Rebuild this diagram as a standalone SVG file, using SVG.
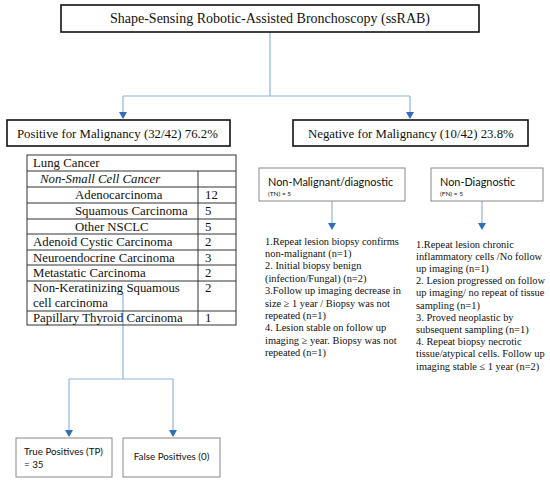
<svg xmlns="http://www.w3.org/2000/svg" width="550" height="481" viewBox="0 0 550 481">
<style>
.bx{fill:#fff;stroke:#111;stroke-width:1.6}
.gb{fill:#fff;stroke:#888;stroke-width:1}
.tb{fill:none;stroke:#333;stroke-width:1}
.s{font-family:"Liberation Serif","Times New Roman",serif;fill:#111}
.h{font-size:14px}
.m{font-size:12.8px}
.l{font-size:10.4px}
.c{font-family:Lato,"Liberation Sans",sans-serif;fill:#111}
.ln{fill:none;stroke:#8eb4e3;stroke-width:1.2}
</style>
<rect width="550" height="481" fill="#fff"/>
<g id="connectors">
<path class="ln" d="M270,32 V96 M123,96 H410"/>
<path class="ln" d="M123,96 V113"/>
<path class="ln" d="M410,96 V113"/>
<path class="ln" d="M332,201 V224"/>
<path class="ln" d="M482,201 V224"/>
<path class="ln" d="M123,293 V379 M69,379 H173"/>
<path class="ln" d="M69,379 V431"/>
<path class="ln" d="M173,379 V431"/>
<path d="M119,112 H127 L123,119 Z M406,112 H414 L410,119 Z M328,223 H336 L332,230 Z M478,223 H486 L482,230 Z M65,430 H73 L69,437 Z M169,430 H177 L173,437 Z" fill="#2f6eba"/>
</g>
<g id="root">
<rect class="bx" x="61" y="5" width="418" height="27"/>
<text class="s h" x="270" y="23" text-anchor="middle">Shape-Sensing Robotic-Assisted Bronchoscopy (ssRAB)</text>
</g>
<g id="positive">
<rect class="bx" x="7" y="120" width="223" height="26"/>
<text class="s m" x="17" y="138">Positive for Malignancy (32/42) 76.2%</text>
</g>
<g id="negative">
<rect class="bx" x="293" y="120" width="235" height="26"/>
<text class="s m" x="308" y="138">Negative for Malignancy (10/42) 23.8%</text>
</g>
<g id="table">
<rect class="tb" x="27" y="155" width="209" height="170"/>
<path class="tb" d="M27,171 H236 M27,187 H236 M27,203 H236 M27,219 H236 M27,234 H236 M27,250 H236 M27,265 H236 M27,281 H236 M27,311 H236 M198,171 V325"/>
<g class="s m">
<text x="33" y="167">Lung Cancer</text>
<text x="40" y="183" font-style="italic">Non-Small Cell Cancer</text>
<text x="75" y="199">Adenocarcinoma</text>
<text x="75" y="215">Squamous Carcinoma</text>
<text x="75" y="231">Other NSCLC</text>
<text x="33" y="246">Adenoid Cystic Carcinoma</text>
<text x="33" y="262">Neuroendocrine Carcinoma</text>
<text x="33" y="277">Metastatic Carcinoma</text>
<text x="33" y="292">Non-Keratinizing Squamous</text>
<text x="33" y="307">cell carcinoma</text>
<text x="33" y="322">Papillary Thyroid Carcinoma</text>
<text x="205" y="199">12</text>
<text x="205" y="215">5</text>
<text x="205" y="231">5</text>
<text x="205" y="246">2</text>
<text x="205" y="262">3</text>
<text x="205" y="277">2</text>
<text x="205" y="292">2</text>
<text x="205" y="322">1</text>
</g>
</g>
<g id="nonmalignant">
<rect class="gb" x="259" y="168" width="146" height="33"/>
<text class="c" x="268" y="186" font-size="10.9">Non-Malignant/diagnostic</text>
<text class="c" x="268" y="196" font-size="6.5">(TN) = 5</text>
</g>
<g id="nondiagnostic">
<rect class="gb" x="431" y="168" width="112" height="33"/>
<text class="c" x="440" y="186" font-size="10.9">Non-Diagnostic</text>
<text class="c" x="440" y="196" font-size="6.5">(FN) = 5</text>
</g>
<g id="tn-list" class="s l">
<text x="265" y="244.5">1.Repeat lesion biopsy confirms</text>
<text x="265" y="256.9">non-malignant (n=1)</text>
<text x="265" y="269.3">2. Initial biopsy benign</text>
<text x="265" y="281.7">(infection/Fungal) (n=2)</text>
<text x="265" y="294.1">3.Follow up imaging decrease in</text>
<text x="265" y="306.5">size ≥ 1 year / Biopsy was not</text>
<text x="265" y="318.9">repeated (n=1)</text>
<text x="265" y="331.3">4. Lesion stable on follow up</text>
<text x="265" y="343.7">imaging ≥ year. Biopsy was not</text>
<text x="265" y="356.1">repeated (n=1)</text>
</g>
<g id="fn-list" class="s l">
<text x="416" y="247.5">1.Repeat lesion chronic</text>
<text x="416" y="259.7">inflammatory cells /No follow</text>
<text x="416" y="271.9">up imaging (n=1)</text>
<text x="416" y="284.1">2. Lesion progressed on follow</text>
<text x="416" y="296.3">up imaging/ no repeat of tissue</text>
<text x="416" y="308.5">sampling (n=1)</text>
<text x="416" y="320.7">3. Proved neoplastic by</text>
<text x="416" y="332.9">subsequent sampling (n=1)</text>
<text x="416" y="345.1">4. Repeat biopsy necrotic</text>
<text x="416" y="357.3">tissue/atypical cells. Follow up</text>
<text x="416" y="369.5">imaging stable ≤ 1 year (n=2)</text>
</g>
<g id="tp">
<rect class="gb" x="16" y="438" width="96" height="39"/>
<text class="c" x="24" y="455" font-size="9.8">True Positives (TP)</text>
<text class="c" x="24" y="468" font-size="9.8">= 35</text>
</g>
<g id="fp">
<rect class="gb" x="123" y="438" width="97" height="39"/>
<text class="c" x="171.5" y="460" font-size="9.8" text-anchor="middle">False Positives (0)</text>
</g>
</svg>
